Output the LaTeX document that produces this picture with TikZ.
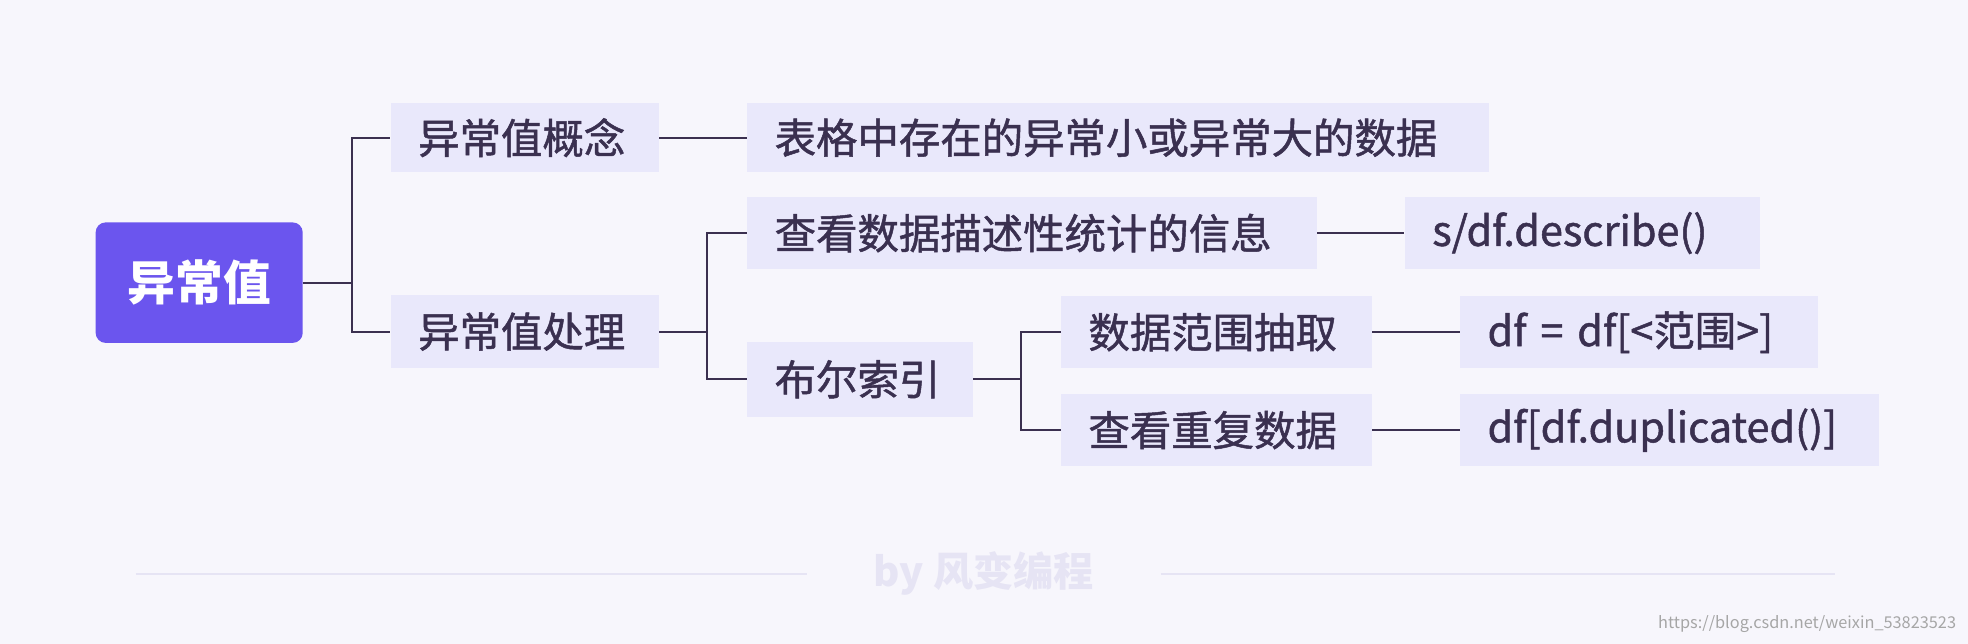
\documentclass[tikz,border=0pt]{standalone}
\usepackage{fontspec}
\setmainfont{Noto Sans CJK SC}
\newfontfamily\cjk{Noto Sans CJK SC}
\newfontfamily\cjkm[FakeBold=1.2]{Noto Sans CJK SC}
\definecolor{bg}{HTML}{F7F6FC}
\definecolor{boxc}{HTML}{E9E8FB}
\definecolor{rootc}{HTML}{6B55EE}
\definecolor{ink}{HTML}{3A3050}
\definecolor{linec}{HTML}{3B3050}
\definecolor{foot}{HTML}{E6E4F4}
\tikzset{
 box/.style n args={2}{fill=boxc, anchor=north west, inner xsep=22pt, inner ysep=0pt, text=ink,
   font=\fontsize{33}{36}\selectfont\cjkm, text width=#1pt-44pt, align=left, minimum height=#2pt},
 rootbox/.style={fill=rootc, rounded corners=8pt, anchor=north west, inner sep=0pt, text=white, font=\fontsize{38}{42}\selectfont\bfseries\cjk},
 conn/.style={draw=linec, line width=1.6pt},
}
\begin{document}
\begin{tikzpicture}[x=1pt,y=-1pt]
\fill[bg] (0,0) rectangle (1568,513);
\useasboundingbox (0,0) rectangle (1568,513);
\node[rootbox, minimum width=165pt, minimum height=96pt] (r) at (76,177) {异常值};
\node[box={214}{55}] (a) at (311,82) {异常值概念};
\node[box={214}{58}] (b) at (311,235) {异常值处理};
\node[box={591}{55}] (a1) at (595,82) {表格中存在的异常小或异常大的数据};
\node[box={454}{57}] (b1) at (595,157) {查看数据描述性统计的信息};
\node[box={283}{57}] (b1a) at (1119,157) {s/df.describe()};
\node[box={180}{60}] (b2) at (595,272) {布尔索引};
\node[box={248}{57}] (c1) at (845,236) {数据范围抽取};
\node[box={248}{57}] (c2) at (845,314) {查看重复数据};
\node[box={285}{57}] (c1a) at (1163,236) {df = df[<范围>]};
\node[box={334}{57}] (c2a) at (1163,314) {df[df.duplicated()]};
\draw[conn] (r.east) -- ++(39,0) |- (a.west);
\draw[conn] (r.east) -- ++(39,0) |- (b.west);
\draw[conn] (a.east) -- (a1.west);
\draw[conn] (b.east) -- ++(38,0) |- (b1.west);
\draw[conn] (b.east) -- ++(38,0) |- (b2.west);
\draw[conn] (b1.east) -- (b1a.west);
\draw[conn] (b2.east) -- ++(38,0) |- (c1.west);
\draw[conn] (b2.east) -- ++(38,0) |- (c2.west);
\draw[conn] (c1.east) -- (c1a.west);
\draw[conn] (c2.east) -- (c2a.west);
\coordinate (f1) at (108,457); \coordinate (f2) at (643,457);
\coordinate (f3) at (925,457); \coordinate (f4) at (1462,457);
\draw[foot, line width=1.5pt] (f1) -- (f2);
\draw[foot, line width=1.5pt] (f3) -- (f4);
\node[text=foot, font=\fontsize{32}{36}\selectfont\bfseries\cjk] (ft) at (784,457) {by 风变编程};
\node[text=gray!70, font=\fontsize{13}{15}\selectfont\cjk, anchor=east] (wm) at (1562,497) {https://blog.csdn.net/weixin\_53823523};
\end{tikzpicture}
\end{document}
